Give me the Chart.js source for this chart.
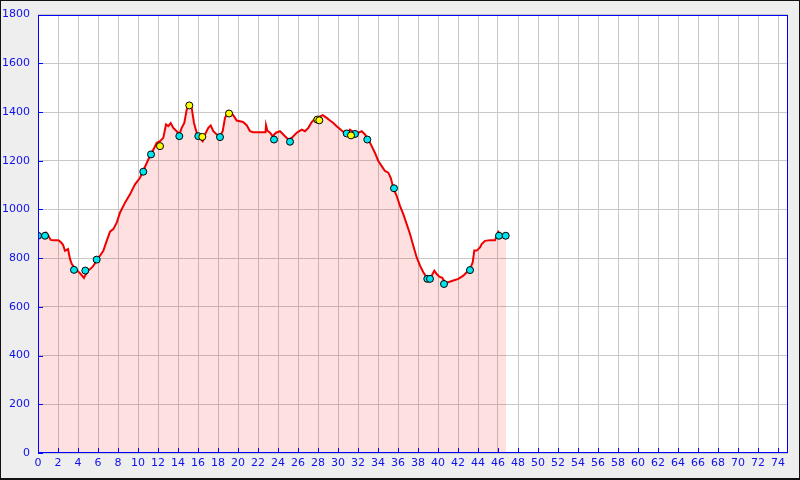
<!DOCTYPE html>
<html>
<head>
<meta charset="utf-8">
<script src="https://cdn.jsdelivr.net/npm/chart.js@4/dist/chart.umd.min.js"></script>
<style>
html,body{margin:0;padding:0;background:#eeeeee;}
#wrap{width:800px;height:480px;position:relative;}
</style>
</head>
<body>
<div id="wrap"><canvas id="c" width="800" height="480"></canvas></div>
<script>
// Elevation profile: distance (km) and elevation (m)
const distKm = [0.0,0.4,0.8,1.0,1.27,1.6,2.03,2.3,2.5,2.7,3.0,3.2,3.37,3.7,4.2,4.6,4.7,5.03,5.47,5.87,6.2,6.53,6.87,7.2,7.53,7.87,8.2,8.7,9.2,9.7,10.2,10.53,11.03,11.37,11.87,12.2,12.53,12.8,13.03,13.27,13.53,13.87,14.13,14.37,14.63,14.87,15.13,15.37,15.6,15.87,16.2,16.47,16.7,17.03,17.27,17.53,17.87,18.2,18.47,18.7,18.97,19.37,19.7,19.87,20.2,20.5,20.87,21.2,21.53,22.53,22.75,22.8,22.93,23.2,23.47,23.8,24.2,24.53,25.03,25.37,25.87,26.37,26.7,27.03,27.37,27.7,28.03,28.47,28.87,29.2,29.53,29.87,30.37,30.87,31.2,31.53,32.03,32.37,32.7,33.03,33.37,33.7,34.03,34.37,34.7,35.03,35.27,35.53,35.87,36.2,36.53,36.87,37.2,37.53,37.87,38.2,38.53,38.87,39.03,39.37,39.63,39.87,40.13,40.43,40.7,41.03,41.53,42.03,42.53,42.87,43.2,43.47,43.63,43.87,44.2,44.37,44.7,45.2,45.7,45.87,46.03,46.2,46.5,46.8];
const elevM = [892,895,905,895,875,874,874,865,855,830,837,797,777,757,738,719,728,749,765,790,810,830,871,909,919,946,987,1028,1062,1103,1130,1160,1205,1232,1274,1280,1294,1349,1342,1355,1335,1321,1308,1335,1355,1410,1430,1417,1355,1315,1294,1280,1308,1335,1345,1321,1308,1301,1321,1376,1396,1396,1376,1365,1362,1359,1346,1321,1317,1317,1317,1346,1324,1315,1301,1315,1321,1308,1287,1294,1315,1328,1321,1335,1359,1373,1379,1387,1376,1365,1355,1342,1324,1308,1328,1318,1315,1321,1308,1287,1260,1232,1199,1178,1158,1151,1130,1089,1055,1015,981,940,899,851,803,769,742,721,715,728,749,735,724,719,701,701,708,715,728,742,755,783,831,831,844,858,871,874,874,892,908,899,892,890];

// Cyan waypoints
const cyanKm = [0.0,0.7,3.6,4.73,5.87,10.53,11.3,14.13,16.03,18.2,23.6,25.2,30.87,31.7,32.93,35.6,38.93,39.2,40.6,43.2,46.1,46.77];
const cyanM  = [892,892,752,749,794,1155,1226,1301,1301,1297,1287,1278,1312,1310,1287,1087,715,715,694,751,892,892];

// Yellow waypoints
const yellowKm = [12.2,15.13,16.43,19.1,27.93,28.13,31.3];
const yellowM  = [1260,1427,1298,1394,1369,1366,1304];

// Axis settings
const xMin = 0, xMax = 75, xStep = 2;
const yMin = 0, yMax = 1800, yStep = 200;

const profile = distKm.map((d,i)=>({x:d,y:elevM[i]}));
const cyanPts = cyanKm.map((d,i)=>({x:d,y:cyanM[i]}));
const yellowPts = yellowKm.map((d,i)=>({x:d,y:yellowM[i]}));

const BLUE = '#0000ff';
const TXT = '#1010e8';

const framePlugin = {
  id:'frame',
  beforeDraw(chart){
    const ctx = chart.ctx, a = chart.chartArea;
    ctx.save();
    ctx.fillStyle = '#eeeeee';
    ctx.fillRect(0,0,chart.width,chart.height);
    ctx.fillStyle = '#ffffff';
    ctx.fillRect(a.left,a.top,a.right-a.left,a.bottom-a.top);
    ctx.strokeStyle = '#111';
    ctx.lineWidth = 1;
    ctx.strokeRect(0.5,0.5,chart.width-1,chart.height-1);
    ctx.beginPath();
    ctx.moveTo(0,chart.height-1.5);ctx.lineTo(chart.width,chart.height-1.5);
    ctx.stroke();
    ctx.restore();
  },
  afterDatasetsDraw(chart){
    const ctx = chart.ctx, a = chart.chartArea;
    const xs = chart.scales.x, ys = chart.scales.y;
    ctx.save();
    ctx.strokeStyle = BLUE;
    ctx.lineWidth = 1;
    ctx.beginPath();
    xs.ticks.forEach(t=>{
      const px = Math.round(xs.getPixelForValue(t.value))+0.5;
      ctx.moveTo(px,a.bottom);ctx.lineTo(px,a.bottom-5);
    });
    ys.ticks.forEach(t=>{
      const py = Math.round(ys.getPixelForValue(t.value))+0.5;
      ctx.moveTo(a.left,py);ctx.lineTo(a.left+5,py);
    });
    ctx.stroke();
    ctx.strokeRect(Math.round(a.left)+0.5,Math.round(a.top)+0.5,Math.round(a.right-a.left)-1,Math.round(a.bottom-a.top)-1);
    ctx.restore();
  }
};

new Chart(document.getElementById('c'),{
  type:'line',
  data:{
    datasets:[
      {type:'scatter',data:yellowPts,backgroundColor:'#ffff00',borderColor:'#000',borderWidth:1,pointRadius:3.5,order:0},
      {type:'scatter',data:cyanPts,backgroundColor:'#00e5ee',borderColor:'#000',borderWidth:1,pointRadius:3.5,order:1},
      {type:'line',data:profile,borderColor:'#ee0000',borderWidth:2,pointRadius:0,tension:0,
       fill:'origin',backgroundColor:'rgba(255,0,0,0.12)',order:2}
    ]
  },
  options:{
    responsive:false,
    animation:false,
    events:[],
    layout:{padding:{left:0,right:12,top:13,bottom:0}},
    plugins:{legend:{display:false},tooltip:{enabled:false}},
    scales:{
      x:{type:'linear',min:xMin,max:xMax,
        grid:{color:'#c8c8c8',drawTicks:false,lineWidth:1},
        border:{display:false},
        ticks:{stepSize:xStep,includeBounds:false,autoSkip:false,maxRotation:0,color:TXT,padding:4,
          font:{family:'DejaVu Sans',size:11},callback:v=>String(v)},
        afterFit(s){s.height=27;}
      },
      y:{type:'linear',min:yMin,max:yMax,
        grid:{color:'#c8c8c8',drawTicks:false,lineWidth:1},
        border:{display:false},
        ticks:{stepSize:yStep,color:TXT,padding:8,font:{family:'DejaVu Sans',size:11},callback:v=>String(v)},
        afterFit(s){s.width=38;}
      }
    }
  },
  plugins:[framePlugin]
});
</script>
</body>
</html>
